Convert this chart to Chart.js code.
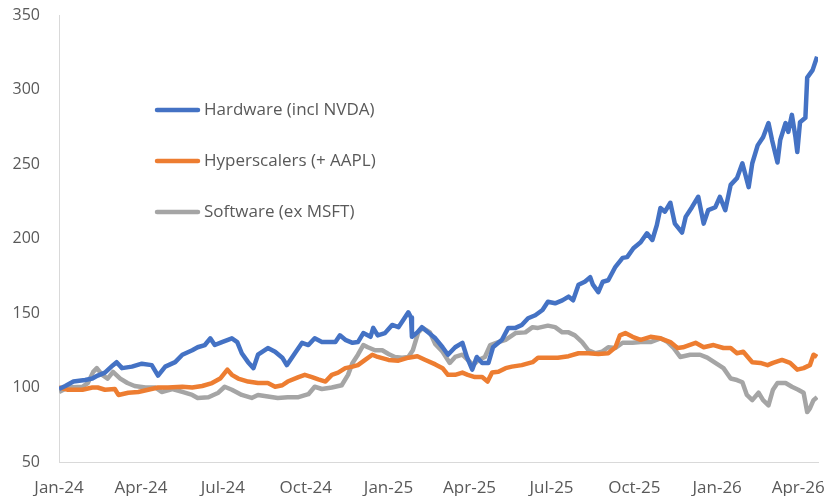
<!DOCTYPE html>
<html>
<head>
<meta charset="utf-8">
<script src="https://cdn.jsdelivr.net/npm/chart.js"></script>
<style>
    html, body { margin: 0; padding: 0; background: #ffffff; }
    .chart-container { position: absolute; left: 0; top: 0; width: 826px; height: 496px; }
</style>
</head>
<body>
<div class="chart-container">
    <canvas id="myChart"></canvas>
</div>

<script>
    // x values are days since 1 Jan 2024
    const seriesNames = ['Hardware (incl NVDA)', 'Hyperscalers (+ AAPL)', 'Software (ex MSFT)'];
    const seriesColors = ['#4472C4', '#ED7D31', '#A5A5A5'];

    const tickDays = [0, 91, 182, 274, 366, 456, 547, 639, 731, 821];
    const tickLabels = ['Jan-24', 'Apr-24', 'Jul-24', 'Oct-24', 'Jan-25', 'Apr-25', 'Jul-25', 'Oct-25', 'Jan-26', 'Apr-26'];

    const hardwareDays = [0, 7, 16, 29, 37, 43, 51, 60, 64, 70, 81, 92, 103, 110, 118, 129, 137, 148, 154, 162, 168, 173, 181, 192, 198, 203, 210, 216, 221, 232, 240, 248, 253, 262, 270, 277, 284, 292, 299, 307, 312, 318, 326, 332, 338, 346, 349, 354, 362, 370, 377, 382, 388, 391, 392, 398, 403, 410, 418, 426, 432, 440, 448, 453, 459, 464, 470, 477, 482, 492, 499, 507, 514, 521, 529, 537, 543, 551, 559, 566, 571, 577, 584, 590, 593, 599, 604, 610, 618, 626, 631, 638, 646, 653, 659, 664, 668, 673, 679, 684, 692, 696, 703, 710, 716, 721, 729, 734, 740, 746, 753, 759, 766, 770, 776, 782, 788, 792, 798, 801, 807, 810, 814, 818, 820, 823, 829, 831, 837, 842];
    const hardware = [99, 101, 104, 105, 106, 108, 110, 115, 117, 113, 114, 116, 115, 108, 114, 117, 122, 125, 127, 128.5, 133, 128.5, 130.5, 133, 130.5, 123, 117, 113, 122, 126.5, 124, 120, 115, 123, 130, 128.5, 133, 130.5, 130.5, 130.5, 135, 132, 130, 130.5, 136.5, 134, 140, 135, 136.5, 142, 140.5, 145, 150.5, 147, 134, 137, 140.5, 137, 133, 127, 122, 127, 130, 120.5, 112, 120.5, 116.5, 116.5, 127, 132, 140, 140, 142, 146.5, 148.5, 152, 157.5, 156.5, 158.5, 161, 158.5, 169, 171, 174, 169, 164, 171, 172, 181, 187, 187.5, 193.5, 197.5, 203.5, 199, 209, 220.5, 218, 224, 210, 204, 214.5, 221, 228, 210, 219, 221, 228, 219, 236, 240.5, 250.5, 234.5, 250.5, 262.5, 268, 277.5, 266, 251, 266, 277.5, 271.5, 283, 268, 258, 278, 281, 308, 313, 322];

    const hyperDays = [0, 10, 26, 37, 43, 51, 62, 66, 77, 88, 99, 110, 121, 137, 148, 159, 170, 179, 187, 192, 199, 210, 221, 232, 240, 248, 254, 266, 273, 281, 288, 296, 303, 310, 318, 326, 332, 340, 348, 354, 366, 377, 388, 398, 407, 418, 426, 432, 440, 448, 454, 462, 470, 476, 481, 488, 496, 503, 514, 526, 532, 543, 554, 566, 577, 588, 599, 610, 618, 623, 629, 637, 646, 657, 668, 679, 687, 693, 707, 716, 727, 738, 746, 753, 760, 770, 779, 787, 793, 803, 812, 820, 827, 834, 838, 842];
    const hyper = [100, 98.5, 98.5, 100, 100, 98.5, 99, 95, 96.5, 97, 98.5, 100, 100, 100.5, 100, 101, 103, 106, 112, 108.5, 106, 104, 103, 103, 100.5, 101.5, 104, 107, 108.5, 107, 105.5, 104, 108.5, 110, 113, 114, 115, 118.5, 122, 120.5, 118.5, 118, 120, 121, 118.5, 115.5, 113, 108.5, 108.5, 110, 108.5, 107, 107, 104, 110, 110.5, 113, 114, 115, 117, 120, 120, 120, 121, 123, 123, 122.5, 123, 127, 135, 136.5, 134, 132, 134, 133, 130.5, 126.5, 127, 130, 127, 128.5, 126.5, 126.5, 123, 124, 117, 116.5, 115, 116.5, 118.5, 116.5, 112, 113, 115, 122, 120.5];

    const softwareDays = [0, 10, 26, 32, 38, 42, 48, 54, 60, 68, 76, 84, 96, 107, 114, 126, 137, 148, 154, 166, 177, 184, 192, 203, 214, 221, 232, 243, 254, 266, 277, 284, 292, 303, 314, 321, 326, 332, 338, 343, 351, 359, 366, 373, 381, 388, 393, 399, 404, 412, 418, 426, 434, 440, 448, 454, 460, 466, 473, 479, 488, 496, 507, 518, 526, 532, 543, 551, 559, 566, 573, 581, 588, 596, 603, 610, 618, 626, 637, 646, 657, 668, 676, 682, 690, 701, 712, 720, 729, 738, 746, 753, 759, 764, 770, 777, 782, 788, 793, 798, 807, 814, 821, 827, 831, 834, 838, 842];
    const software = [97, 100, 100.5, 103, 110.5, 113, 108.5, 106, 110.5, 106, 103, 101, 100, 100, 97, 99, 97, 95, 93, 93.5, 96.5, 100.5, 98.5, 95, 93, 95, 94, 93, 93.5, 93.5, 95.5, 100.5, 99, 100, 101.5, 108.5, 116.5, 122, 128.5, 127, 125, 125, 122.5, 120.5, 120, 120.5, 125, 137, 140, 137, 129, 124, 116.5, 120.5, 122, 118.5, 115, 118.5, 120.5, 128.5, 130.5, 132, 136.5, 137, 140.5, 140, 141.5, 140.5, 137, 137, 135, 130.5, 125, 123, 124, 127, 126.5, 130, 130, 130.5, 130.5, 133, 130.5, 127, 120.5, 122, 122, 120, 116.5, 113, 106, 105, 103.5, 95, 91.5, 96.5, 91.5, 88, 98.5, 103, 103, 100.5, 98.5, 96.5, 83.5, 86, 91.5, 93.5];

    const yTicks = [50, 100, 150, 200, 250, 300, 350];

    const toPoints = (days, vals) => days.map((d, i) => ({x: d, y: vals[i]}));

    const textColor = '#595959';
    const fontFamily = "'Open Sans', 'Liberation Sans', sans-serif";

    // legend sits inside the plot, drawn by hand
    const insideLegend = {
        id: 'insideLegend',
        afterDraw(chart) {
            const c = chart.ctx;
            const rows = [110, 161, 212];
            c.save();
            c.font = '17px ' + fontFamily;
            c.textBaseline = 'middle';
            chart.data.datasets.forEach((ds, i) => {
                c.strokeStyle = ds.borderColor;
                c.lineWidth = 4.5;
                c.lineCap = 'round';
                c.beginPath();
                c.moveTo(157, rows[i]);
                c.lineTo(198, rows[i]);
                c.stroke();
                c.fillStyle = textColor;
                c.fillText(ds.label, 204, rows[i]);
            });
            c.restore();
        }
    };

    const ctx = document.getElementById('myChart');

    new Chart(ctx, {
        type: 'line',
        data: {
            datasets: [
                {label: seriesNames[0], data: toPoints(hardwareDays, hardware), borderColor: seriesColors[0]},
                {label: seriesNames[1], data: toPoints(hyperDays, hyper), borderColor: seriesColors[1]},
                {label: seriesNames[2], data: toPoints(softwareDays, software), borderColor: seriesColors[2]}
            ].map(ds => Object.assign(ds, {borderWidth: 4.5, pointRadius: 0, tension: 0, fill: false, borderJoinStyle: 'round'}))
        },
        options: {
            responsive: true,
            maintainAspectRatio: false,
            animation: false,
            layout: {padding: {top: 15, right: 8, left: 0, bottom: 0}},
            plugins: {
                legend: {display: false},
                tooltip: {enabled: false}
            },
            scales: {
                x: {
                    type: 'linear',
                    min: 0,
                    max: 843,
                    grid: {display: false},
                    border: {display: true, color: '#D9D9D9', width: 1},
                    afterBuildTicks: scale => { scale.ticks = tickDays.map(v => ({value: v})); },
                    afterFit: scale => {
                        scale.height = 34;
                        scale.paddingLeft = 0;
                        scale.paddingRight = 0;
                    },
                    ticks: {
                        autoSkip: false,
                        maxRotation: 0,
                        padding: 8,
                        color: textColor,
                        font: {family: fontFamily, size: 17},
                        callback: v => tickLabels[tickDays.indexOf(v)]
                    }
                },
                y: {
                    min: 50,
                    max: 350,
                    grid: {display: false},
                    border: {display: true, color: '#D9D9D9', width: 1},
                    afterBuildTicks: scale => { scale.ticks = yTicks.map(v => ({value: v})); },
                    afterFit: scale => {
                        scale.width = 59;
                        scale.paddingTop = 0;
                        scale.paddingBottom = 0;
                    },
                    ticks: {
                        padding: 11,
                        color: textColor,
                        font: {family: fontFamily, size: 16}
                    }
                }
            }
        },
        plugins: [insideLegend]
    });
</script>
</body>
</html>
